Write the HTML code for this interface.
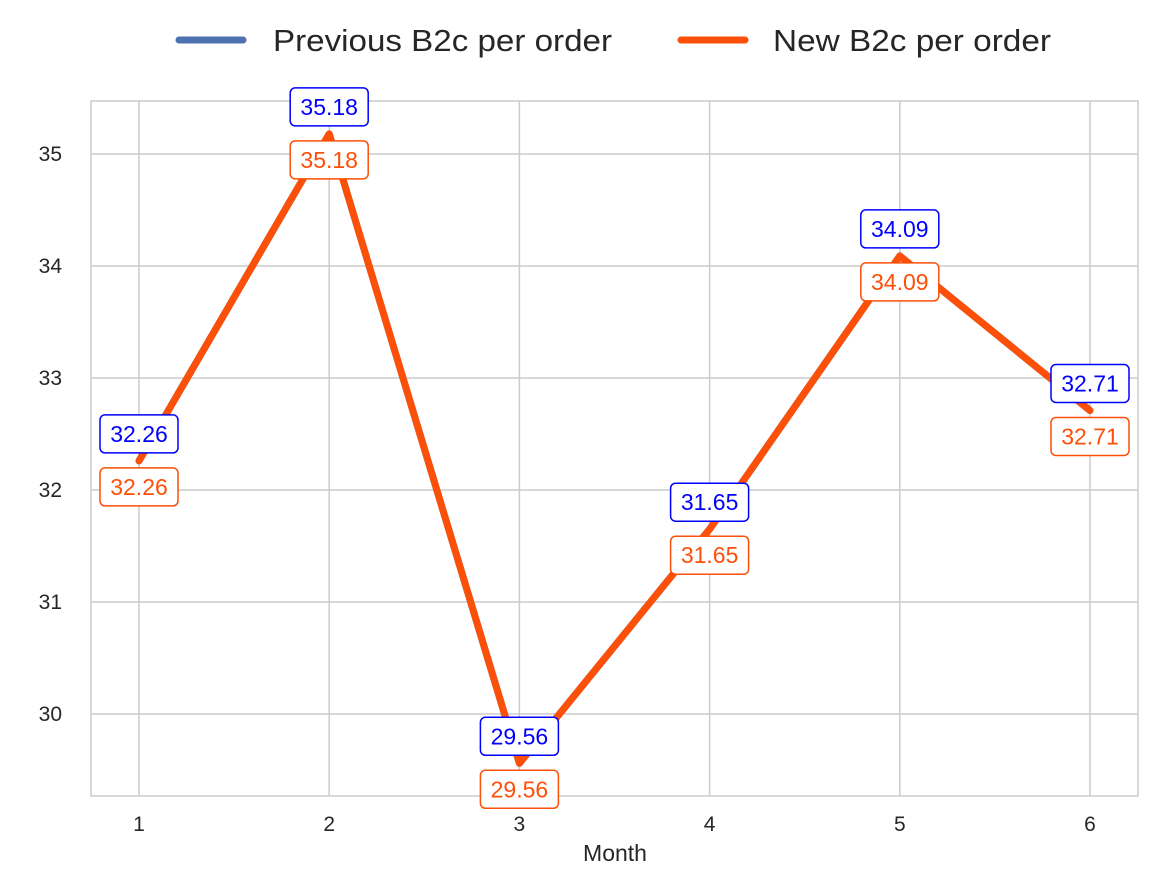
<!DOCTYPE html>
<html><head><meta charset="utf-8"><style>
body{margin:0;background:#fff}
svg text{font-family:"Liberation Sans",Arial,sans-serif}
</style></head><body>
<svg id="chart" width="1152" height="881" xmlns="http://www.w3.org/2000/svg">
<rect x="0" y="0" width="1152" height="881" fill="#fff"/>
<g id="grid"></g>
<rect x="91" y="101" width="1047" height="695" fill="none" stroke="#cccccc" stroke-width="1.5"/>
<g id="lines"></g>
<g id="labels"></g>
<text x="615" y="861" font-size="23" fill="#262626" text-anchor="middle">Month</text>
<g>
<g>
<line x1="179" y1="40" x2="243" y2="40" stroke="#4c72b0" stroke-width="7" stroke-linecap="round"/>
<text x="273" y="51" font-size="31" fill="#262626" textLength="339" lengthAdjust="spacingAndGlyphs">Previous B2c per order</text></g>
<g>
<line x1="681" y1="40" x2="745" y2="40" stroke="#fc4f08" stroke-width="7" stroke-linecap="round"/>
<text x="773" y="51" font-size="31" fill="#262626" textLength="278" lengthAdjust="spacingAndGlyphs">New B2c per order</text></g>
</g>
</svg>
<script>
const months=[1,2,3,4,5,6];
const previousValues=[32.26,35.18,29.56,31.65,34.09,32.71];
const newValues=[32.26,35.18,29.56,31.65,34.09,32.71];
const yTicks=[30,31,32,33,34,35];
const NS="http://www.w3.org/2000/svg";
const xs=m=>139+(m-1)*190.2;
const ys=v=>714-(v-30)*112;
function mk(tag,attrs,parent){const e=document.createElementNS(NS,tag);for(const k in attrs)e.setAttribute(k,attrs[k]);parent.appendChild(e);return e;}
const grid=document.getElementById('grid');
months.forEach(m=>{
 const l=mk('line',{x1:xs(m),x2:xs(m),y1:101,y2:796,stroke:'#cccccc','stroke-width':1.5},grid);
 
 
 const t=mk('text',{x:xs(m),y:831,'font-size':21,fill:'#262626','text-anchor':'middle'},grid);
 t.textContent=m;
 
 
});
yTicks.forEach(v=>{
 const l=mk('line',{x1:91,x2:1138,y1:ys(v),y2:ys(v),stroke:'#cccccc','stroke-width':1.5},grid);
 
 
 const t=mk('text',{x:62,y:ys(v)+7,'font-size':21,fill:'#262626','text-anchor':'end'},grid);
 t.textContent=v;
 
 
});
const lines=document.getElementById('lines');
function series(vals,color,name){
 const p=mk('polyline',{points:months.map((m,i)=>xs(m)+','+ys(vals[i])).join(' '),fill:'none',stroke:color,'stroke-width':7,'stroke-linecap':'round','stroke-linejoin':'round'},lines);
 
 
}
series(previousValues,'#4c72b0','previous-line');
series(newValues,'#fc4f08','new-line');
const labels=document.getElementById('labels');
function lab(vals,color,dy,name){
 months.forEach((m,i)=>{
  const cx=xs(m),cy=ys(vals[i])+dy;
  const g=mk('g',{},labels);
  
  
  mk('rect',{x:cx-39,y:cy-19,width:78,height:38,rx:5,fill:'#fff',stroke:color,'stroke-width':1.5},g);
  const t=mk('text',{x:cx,y:cy+8,'font-size':23,fill:color,'text-anchor':'middle'},g);
  t.textContent=vals[i].toFixed(2);
 });
}
lab(previousValues,'#0000ff',-27,'previous-value-label');
lab(newValues,'#fc4f08',26,'new-value-label');
</script>
</body></html>
